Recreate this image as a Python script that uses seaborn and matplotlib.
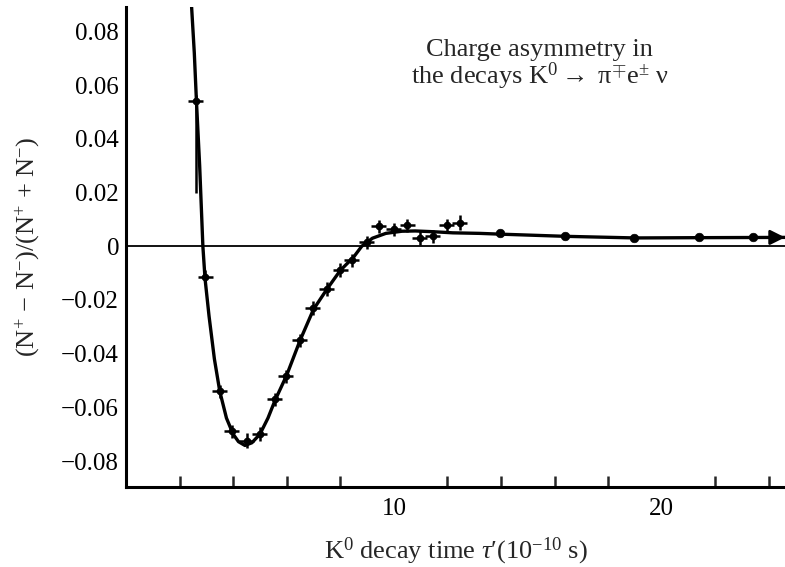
import matplotlib
matplotlib.use("Agg")
import matplotlib.pyplot as plt
import seaborn as sns
import pandas as pd
import numpy as np

# ---- data ----
curve_t = [2.45, 2.55, 2.63, 2.75, 2.87, 2.95, 3.1, 3.3, 3.5, 3.75, 4.0, 4.2, 4.44,
           4.7, 5.0, 5.3, 5.56, 6.0, 6.5, 7.0, 7.5, 8.0, 8.5, 8.8, 9.2, 9.7,
           10.3, 10.8, 11.5, 12.2, 13.2, 14.0, 16.4, 19.0, 21.4, 24.6]
curve_y = [0.089, 0.072, 0.054, 0.030, 0.000, -0.012, -0.026, -0.042, -0.054, -0.064,
           -0.0700, -0.0728, -0.0742, -0.0732, -0.0700, -0.0640, -0.0575, -0.0480,
           -0.0350, -0.0235, -0.0160, -0.0090, -0.0040, 0.0000, 0.0030, 0.0048,
           0.0056, 0.0057, 0.0054, 0.0050, 0.0048, 0.0045, 0.0037, 0.0031, 0.0032, 0.0033]

pts_t = [2.6, 2.95, 3.5, 3.95, 4.5, 5.0, 5.55, 5.97, 6.48, 6.97, 7.5, 7.99, 8.43,
         8.99, 9.44, 10.0, 10.49, 10.97, 11.46, 11.98, 12.46]
pts_y = [0.054, -0.0115, -0.054, -0.069, -0.0725, -0.070, -0.057, -0.0485, -0.035,
         -0.023, -0.016, -0.0089, -0.0052, 0.0015, 0.0074, 0.0063, 0.0078, 0.0030,
         0.0037, 0.0078, 0.0086]
pts_yerr_low = [0.034, 0.0025, 0.0025, 0.0025, 0.0025, 0.0025, 0.0025, 0.0025, 0.0025,
                0.0025, 0.0025, 0.0025, 0.0025, 0.0025, 0.0025, 0.0025, 0.0025, 0.0025,
                0.0025, 0.0025, 0.0025]
pts_yerr_high = [0.0025, 0.0025, 0.0025, 0.0025, 0.0030, 0.0025, 0.0025, 0.0025, 0.0025,
                 0.0025, 0.0025, 0.0025, 0.0025, 0.0025, 0.0025, 0.0025, 0.0025, 0.0025,
                 0.0025, 0.0025, 0.0030]
pts_xerr = 0.28

dots_t = [13.96, 16.4, 18.96, 21.4, 23.4]
dots_y = [0.0048, 0.0037, 0.0030, 0.0033, 0.0033]

ytick_vals = [0.08, 0.06, 0.04, 0.02, 0.0, -0.02, -0.04, -0.06, -0.08]
ytick_labels = ["0.08", "0.06", "0.04", "0.02", "0", "\u22120.02", "\u22120.04",
                "\u22120.06", "\u22120.08"]
xmajor = [10, 20]
xmajor_labels = ["10", "20"]
xminor = [2, 4, 6, 8, 12, 14, 16, 18, 22, 24]

sns.set_theme(style="white")
plt.rcParams["font.family"] = ["Liberation Serif", "DejaVu Serif"]
plt.rcParams["mathtext.fontset"] = "custom"
plt.rcParams["mathtext.rm"] = "Liberation Serif"
plt.rcParams["mathtext.it"] = "Liberation Serif:italic"

fig = plt.figure(figsize=(7.85, 5.67), dpi=100)
ax = fig.add_axes([0.1605, 0.141, 0.8395, 0.847])

curve_df = pd.DataFrame({"t": curve_t, "y": curve_y})
ax.axhline(0, color="black", lw=1.3, zorder=1)
sns.lineplot(data=curve_df, x="t", y="y", ax=ax, color="black", lw=2.4,
             sort=False, estimator=None, zorder=3)
ax.annotate("", xy=(curve_t[-1], curve_y[-1]), xytext=(curve_t[-2] + 2.0, curve_y[-1]),
            arrowprops=dict(arrowstyle="-|>", color="black", lw=2.0,
                            mutation_scale=22, shrinkA=0, shrinkB=0),
            annotation_clip=False, zorder=4)

ax.errorbar(pts_t, pts_y, xerr=pts_xerr, yerr=[pts_yerr_low, pts_yerr_high], fmt="o",
            ms=4.5, color="black", ecolor="black", elinewidth=1.8, capsize=0, zorder=5)
dots_df = pd.DataFrame({"t": dots_t, "y": dots_y})
sns.scatterplot(data=dots_df, x="t", y="y", ax=ax, color="black", s=38,
                edgecolor="black", zorder=6)

ax.set_xlim(0, 24.6)
ax.set_ylim(-0.0897, 0.0892)

ax.set_xticks(xmajor)
ax.set_xticklabels(xmajor_labels)
ax.set_xticks(xminor, minor=True)
ax.set_yticks(ytick_vals)
ax.set_yticklabels(ytick_labels)

ax.tick_params(axis="x", which="major", direction="in", length=14, width=1.8,
               labelsize=18, pad=8, colors="black")
ax.tick_params(axis="x", which="minor", direction="in", length=8, width=1.8,
               bottom=True)
ax.tick_params(axis="y", which="major", direction="in", length=13, width=1.8,
               labelsize=18, pad=5, colors="black")

for s in ["top", "right"]:
    ax.spines[s].set_visible(False)
for s in ["left", "bottom"]:
    ax.spines[s].set_linewidth(2.2)
    ax.spines[s].set_color("black")

ax.set_xlabel(r"K$^0$ decay time $\tau$′(10$^{-10}$ s)", fontsize=19, labelpad=11)
ax.set_ylabel(r"(N$^{+}$ $-$ N$^{-}$)/(N$^{+}$ + N$^{-}$)", fontsize=19, labelpad=14)

ax.text(0.628, 0.878, "Charge asymmetry in\n" + r"the decays K$^0$$\rightarrow$ π$^{\mp}$e$^{\pm}$ ν",
        transform=ax.transAxes, ha="center", va="center", fontsize=19,
        linespacing=0.95)

ax.grid(False)
fig.savefig("out.png", dpi=100)
